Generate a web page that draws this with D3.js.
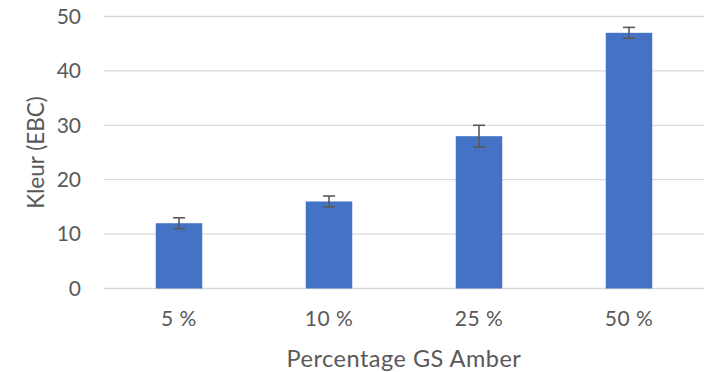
<!DOCTYPE html>
<html><head><meta charset="utf-8">
<script src="https://cdn.jsdelivr.net/npm/d3@7"></script>
<style>body{margin:0;background:#fff;} svg{display:block;} text{font-family:Lato,"Open Sans",sans-serif;fill:#595959;}</style>
</head><body><svg id="c" width="708" height="372"></svg>
<script>
const categories = ["5 %", "10 %", "25 %", "50 %"];
const values = [12, 16, 28, 47];
const errors = [1, 1, 2, 1];
const yTicks = [0, 10, 20, 30, 40, 50];
const xTitle = "Percentage GS Amber";
const yTitle = "Kleur (EBC)";

const svg = d3.select("#c");
const m = {left: 104, right: 4, top: 16.5, bottom: 83.5};
const W = 708, H = 372;
const x = d3.scaleBand().domain(categories).range([m.left, W - m.right]).paddingInner(0.69).paddingOuter(0.345);
const y = d3.scaleLinear().domain([0, 50]).range([H - m.bottom, m.top]);

// gridlines
svg.append("g").selectAll("line").data(yTicks).join("line")
  .attr("x1", m.left).attr("x2", W - m.right)
  .attr("y1", d => y(d)).attr("y2", d => y(d))
  .attr("stroke", "#d9d9d9").attr("stroke-width", 1.3);

// y axis labels
const yAxis = d3.axisLeft(y).tickValues(yTicks).tickSize(0).tickPadding(0);
const gy = svg.append("g").attr("transform", `translate(${m.left - 23},0)`).call(yAxis);
gy.select(".domain").remove();
gy.selectAll("text").style("font-size", "21px").attr("fill", "#595959").attr("font-family", null);

// bars
svg.append("g").selectAll("rect").data(values).join("rect")
  .attr("x", (d, i) => x(categories[i])).attr("width", x.bandwidth())
  .attr("y", d => y(d)).attr("height", d => y(0) - y(d))
  .attr("fill", "#4472c4");

// error bars
const eb = svg.append("g").attr("stroke", "#595959").attr("stroke-width", 1.6);
values.forEach((v, i) => {
  const cx = x(categories[i]) + x.bandwidth() / 2;
  eb.append("line").attr("x1", cx).attr("x2", cx).attr("y1", y(v + errors[i])).attr("y2", y(v - errors[i]));
  eb.append("line").attr("x1", cx - 6).attr("x2", cx + 6).attr("y1", y(v + errors[i])).attr("y2", y(v + errors[i]));
  eb.append("line").attr("x1", cx - 6).attr("x2", cx + 6).attr("y1", y(v - errors[i])).attr("y2", y(v - errors[i]));
});

// x axis labels
const xAxis = d3.axisBottom(x).tickSize(0).tickPadding(0);
const gx = svg.append("g").attr("transform", `translate(0,${y(0) + 23})`).call(xAxis);
gx.select(".domain").remove();
gx.selectAll("text").style("font-size", "21px").attr("fill", "#595959").attr("font-family", null)
  .style("letter-spacing", "0.5px");

// titles
svg.append("text").attr("x", (m.left + W - m.right) / 2).attr("y", 366.5).attr("text-anchor", "middle")
  .style("font-size", "23.5px").style("letter-spacing", "0.5px").text(xTitle);
svg.append("text").attr("transform", `translate(44,${(y(0) + y(50)) / 2}) rotate(-90)`)
  .attr("text-anchor", "middle").style("font-size", "22.5px").text(yTitle);
</script></body></html>
